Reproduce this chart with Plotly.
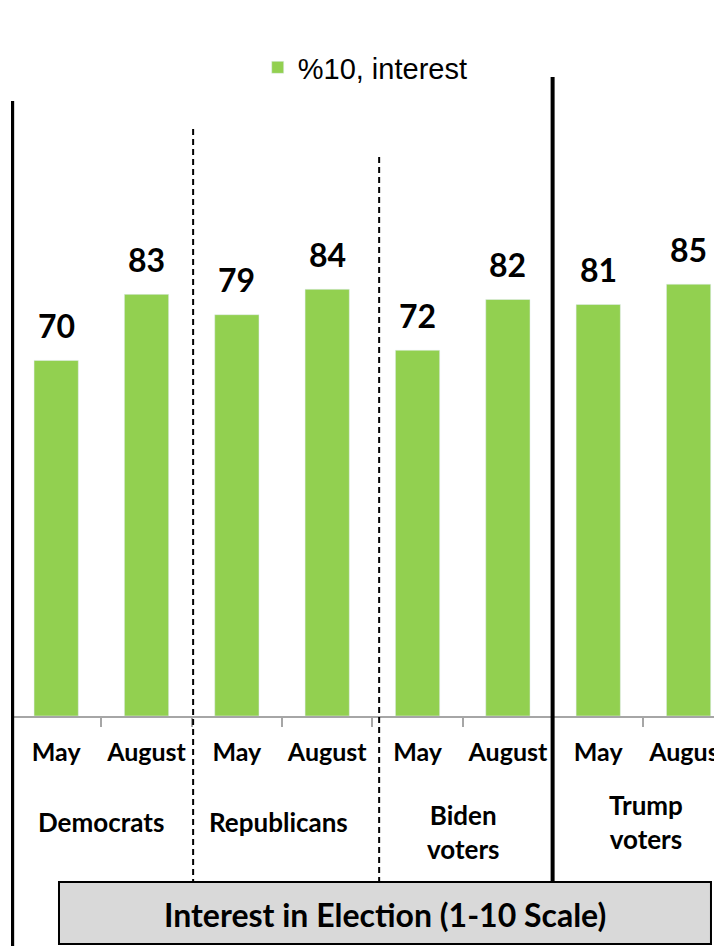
import plotly.graph_objects as go

# ---- data ----
periods = ["May", "August", "May", "August", "May", "August", "May", "August"]
groups = ["Democrats", "Republicans", "Biden<br>voters", "Trump<br>voters"]
values = [70, 83, 79, 84, 72, 82, 81, 85]
series_name = "%10, interest"
chart_title = "Interest in Election (1-10 Scale)"

x_pos = list(range(len(values)))
GREEN = "#92d050"
LABEL_FONT = "Lato"

fig = go.Figure()
fig.add_trace(go.Bar(
    x=x_pos, y=values, name=series_name, marker_color=GREEN,
    width=0.49, showlegend=True,
))

# data labels
for xi, v in zip(x_pos, values):
    fig.add_annotation(x=xi, y=v, xref="x", yref="y", text=f"<b>{v}</b>",
                       showarrow=False, yanchor="middle", yshift=35,
                       font=dict(family=LABEL_FONT, size=32, color="black"))

# group labels
group_x = [0.5, 2.46, 4.51, 6.53]
group_y = [-0.2087, -0.2087, -0.2274, -0.2096]
for g, gx, gy in zip(groups, group_x, group_y):
    fig.add_annotation(x=gx, y=gy, xref="x", yref="paper", text=f"<b>{g}</b>",
                       showarrow=False, yanchor="middle", xanchor="center",
                       font=dict(family=LABEL_FONT, size=26, color="black"))

# separators
fig.add_shape(type="line", xref="x", yref="paper", x0=-0.487, x1=-0.487,
              y0=1.2106, y1=-0.47, line=dict(color="black", width=4))
fig.add_shape(type="line", xref="x", yref="paper", x0=5.495, x1=5.495,
              y0=1.2579, y1=-0.3268, line=dict(color="black", width=4))
fig.add_shape(type="line", xref="x", yref="paper", x0=1.516, x1=1.516,
              y0=1.1555, y1=-0.3268, line=dict(color="black", width=2, dash="6px,4px"))
fig.add_shape(type="line", xref="x", yref="paper", x0=3.575, x1=3.575,
              y0=1.1004, y1=-0.3268, line=dict(color="black", width=2, dash="6px,4px"))

# title box
fig.add_shape(type="rect", xref="paper", yref="paper", x0=0.0675, x1=0.9845,
              y0=-0.4488, y1=-0.3268, fillcolor="#d9d9d9",
              line=dict(color="black", width=2), layer="above")
fig.add_annotation(x=0.526, y=-0.3898, xref="paper", yref="paper",
                   text=f"<b>{chart_title}</b>", showarrow=False,
                   xanchor="center", yanchor="middle",
                   font=dict(family=LABEL_FONT, size=32, color="black"))

fig.update_layout(
    width=714, height=938,
    margin=dict(l=3, r=0, t=200, b=230, autoexpand=False),
    paper_bgcolor="white", plot_bgcolor="white",
    bargap=0.51,
    showlegend=True,
    legend=dict(x=0.347, y=1.2766, xanchor="left", yanchor="middle",
                font=dict(family="Liberation Sans, Arial", size=29, color="black"),
                bgcolor="rgba(0,0,0,0)"),
    xaxis=dict(
        range=[-0.5, 7.37], tickmode="array", tickvals=x_pos,
        ticktext=[f"<b>{p}</b>" for p in periods],
        tickfont=dict(family=LABEL_FONT, size=25, color="black"),
        showline=True, linecolor="#a6a6a6", linewidth=2,
        ticks="", showgrid=False, zeroline=False, automargin=False,
        ticklabelstandoff=13, ticklabeloverflow="allow",
        minor=dict(tickmode="array", tickvals=[i + 0.5 for i in range(7)],
                   ticks="outside", ticklen=9, tickwidth=2, tickcolor="#a6a6a6",
                   showgrid=False),
    ),
    yaxis=dict(range=[0, 100], visible=False, automargin=False),
)

fig.write_html("out.html")
